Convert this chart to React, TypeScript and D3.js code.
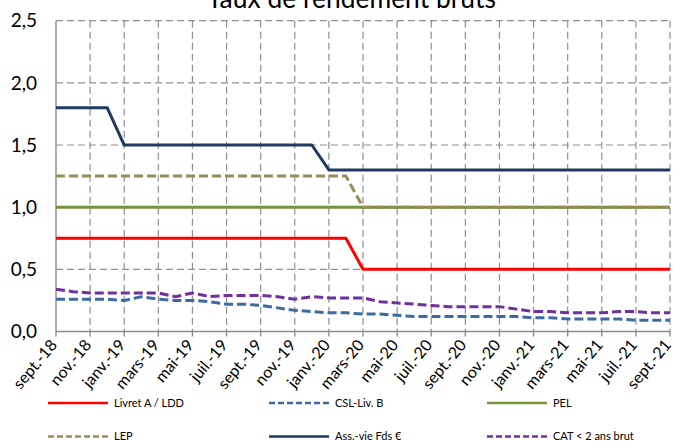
import React from 'react';
import * as d3 from 'd3';

const months: string[] = [
  'sept.-18','oct.-18','nov.-18','déc.-18','janv.-19','févr.-19','mars-19','avr.-19','mai-19','juin-19','juil.-19','août-19',
  'sept.-19','oct.-19','nov.-19','déc.-19','janv.-20','févr.-20','mars-20','avr.-20','mai-20','juin-20','juil.-20','août-20',
  'sept.-20','oct.-20','nov.-20','déc.-20','janv.-21','févr.-21','mars-21','avr.-21','mai-21','juin-21','juil.-21','août-21','sept.-21'
];
const xTickLabels: string[] = [
  'sept.-18','nov.-18','janv.-19','mars-19','mai-19','juil.-19','sept.-19','nov.-19','janv.-20','mars-20',
  'mai-20','juil.-20','sept.-20','nov.-20','janv.-21','mars-21','mai-21','juil.-21','sept.-21'
];
const yTicks: number[] = [0, 0.5, 1, 1.5, 2, 2.5];
const yTickLabels: string[] = ['0,0', '0,5', '1,0', '1,5', '2,0', '2,5'];

const livretA: number[] = [0.75,0.75,0.75,0.75,0.75,0.75,0.75,0.75,0.75,0.75,0.75,0.75,0.75,0.75,0.75,0.75,0.75,0.75,
  0.5,0.5,0.5,0.5,0.5,0.5,0.5,0.5,0.5,0.5,0.5,0.5,0.5,0.5,0.5,0.5,0.5,0.5,0.5];
const cslLivB: number[] = [0.26,0.26,0.26,0.26,0.25,0.28,0.26,0.25,0.25,0.24,0.22,0.22,0.21,0.19,0.17,0.16,0.15,0.15,
  0.14,0.14,0.13,0.12,0.12,0.12,0.12,0.12,0.12,0.12,0.11,0.11,0.10,0.10,0.10,0.10,0.09,0.09,0.09];
const pel: number[] = [1,1,1,1,1,1,1,1,1,1,1,1,1,1,1,1,1,1,1,1,1,1,1,1,1,1,1,1,1,1,1,1,1,1,1,1,1];
const lep: number[] = [1.25,1.25,1.25,1.25,1.25,1.25,1.25,1.25,1.25,1.25,1.25,1.25,1.25,1.25,1.25,1.25,1.25,1.25,
  1,1,1,1,1,1,1,1,1,1,1,1,1,1,1,1,1,1,1];
const assVie: number[] = [1.8,1.8,1.8,1.8,1.5,1.5,1.5,1.5,1.5,1.5,1.5,1.5,1.5,1.5,1.5,1.5,
  1.3,1.3,1.3,1.3,1.3,1.3,1.3,1.3,1.3,1.3,1.3,1.3,1.3,1.3,1.3,1.3,1.3,1.3,1.3,1.3,1.3];
const catBrut: number[] = [0.34,0.32,0.31,0.31,0.31,0.31,0.31,0.28,0.31,0.28,0.29,0.29,0.29,0.28,0.26,0.28,0.27,0.27,
  0.27,0.24,0.23,0.22,0.21,0.20,0.20,0.20,0.20,0.18,0.16,0.16,0.15,0.15,0.15,0.16,0.16,0.15,0.15];

const seriesNames: string[] = ['Livret A / LDD', 'CSL-Liv. B', 'PEL', 'LEP', 'Ass.-vie  Fds €', 'CAT < 2 ans brut'];
const seriesData: number[][] = [livretA, cslLivB, pel, lep, assVie, catBrut];
const seriesColors: string[] = ['#ff0000', '#3c6aa2', '#77933c', '#968c58', '#1f3a60', '#7030a0'];
const seriesDashed: boolean[] = [false, true, false, true, false, true];

const W = 673, H = 441;
const left = 56, right = 670, top = 20.7, bottom = 331.5;
const FONT = 'Lato, "Open Sans", sans-serif';

export default function App() {
  const x = d3.scaleLinear().domain([0, months.length - 1]).range([left, right]);
  const y = d3.scaleLinear().domain([0, 2.5]).range([bottom, top]);
  const line = d3.line<number>().x((_, i) => x(i)).y(d => y(d));
  const gridColor = '#8f8f8f';

  const legendCols = [48, 269, 487];
  const legendRows = [403, 436.5];

  return (
    <svg width={W} height={H} style={{ position: 'absolute', left: 0, top: 0, background: '#fff' }} fontFamily={FONT}>
      <rect x={0} y={0} width={W} height={H} fill="#fff" />
      <text x={351.5} y={7.5} textAnchor="middle" fontSize={28} textLength={289} lengthAdjust="spacingAndGlyphs" fill="#000">
        Taux de rendement bruts
      </text>
      {yTicks.filter(t => t > 0).map(t => (
        <line key={'h' + t} x1={left} x2={right} y1={y(t)} y2={y(t)} stroke={gridColor} strokeWidth={1.2} strokeDasharray="7,4" />
      ))}
      {xTickLabels.map((_, k) => k > 0 ? (
        <line key={'v' + k} x1={x(k * 2)} x2={x(k * 2)} y1={top} y2={bottom} stroke={gridColor} strokeWidth={1.2} strokeDasharray="7,4" />
      ) : null)}
      <line x1={left} x2={left} y1={top} y2={bottom} stroke="#8c8c8c" strokeWidth={1.4} />
      <line x1={left} x2={right} y1={bottom} y2={bottom} stroke="#8c8c8c" strokeWidth={1.4} />
      {xTickLabels.map((_, k) => (
        <line key={'t' + k} x1={x(k * 2)} x2={x(k * 2)} y1={bottom} y2={bottom + 5} stroke="#8c8c8c" strokeWidth={1.4} />
      ))}
      {yTicks.map((t, i) => (
        <text key={'yl' + t} x={37} y={y(t)} dy="0.35em" textAnchor="end" fontSize={19} fill="#000">{yTickLabels[i]}</text>
      ))}
      {xTickLabels.map((lab, k) => (
        <text key={'xl' + k} transform={`translate(${x(k * 2) + 2},${bottom + 14}) rotate(-50)`} textAnchor="end" fontSize={16} fill="#000">{lab}</text>
      ))}
      {seriesData.map((d, i) => (
        <path key={'s' + i} d={line(d) || ''} fill="none" stroke={seriesColors[i]} strokeWidth={3}
          strokeDasharray={seriesDashed[i] ? '9,4' : undefined} strokeLinejoin="round" />
      ))}
      {seriesNames.map((name, i) => {
        const col = i % 3, row = Math.floor(i / 3);
        const lx = legendCols[col], ly = legendRows[row];
        return (
          <g key={'lg' + i}>
            <line x1={lx} x2={lx + 60} y1={ly} y2={ly} stroke={seriesColors[i]} strokeWidth={2.6}
              strokeDasharray={seriesDashed[i] ? '6,3' : undefined} />
            <text x={lx + 66} y={ly} dy="0.35em" fontSize={11} fill="#000">{name}</text>
          </g>
        );
      })}
    </svg>
  );
}
